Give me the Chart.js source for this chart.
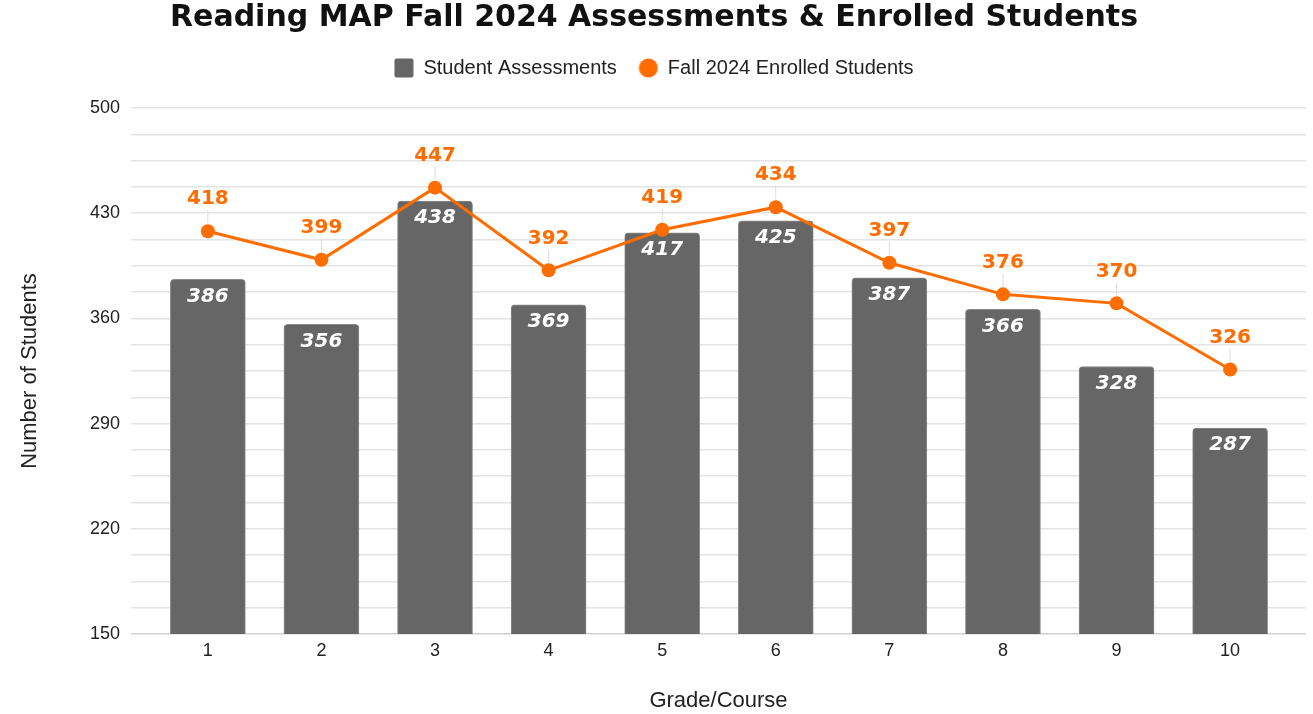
<!DOCTYPE html>
<html>
<head>
<meta charset="utf-8">
<title>Reading MAP Fall 2024</title>
<script src="https://cdn.jsdelivr.net/npm/chart.js@4/dist/chart.umd.min.js"></script>
<style>
  html, body { margin: 0; padding: 0; background: #fff; }
  #wrap { width: 1313px; height: 714px; }
</style>
</head>
<body>
<div id="wrap"><canvas id="mapChart"></canvas></div>
<script>
const grades = [1, 2, 3, 4, 5, 6, 7, 8, 9, 10];
const assessments = [386, 356, 438, 369, 417, 425, 387, 366, 328, 287];
const enrolled = [418, 399, 447, 392, 419, 434, 397, 376, 370, 326];
const yMajorTicks = [150, 220, 290, 360, 430, 500];

const colors = {
  bar: "#666666",
  barEdge: "#8a8a8a",
  orange: "#ff6d01",
  grid: "#e4e4e4",
  base: "#cfcfcf",
  text: "#1f1f1f",
};

// little canvases used as legend markers
function makeMarker(kind) {
  const c = document.createElement("canvas");
  c.width = 20;
  c.height = 20;
  const g = c.getContext("2d");
  if (kind === "square") {
    g.fillStyle = colors.bar;
    g.beginPath();
    g.roundRect(0.5, 0.5, 19, 19, 2);
    g.fill();
  } else {
    g.fillStyle = colors.orange;
    g.beginPath();
    g.arc(10, 10, 9.5, 0, Math.PI * 2);
    g.fill();
  }
  return c;
}
const markers = [makeMarker("square"), makeMarker("circle")];

// push the plot down a bit below the legend
const legendSpacer = {
  id: "legendSpacer",
  beforeInit(chart) {
    const fit = chart.legend.fit;
    chart.legend.fit = function () {
      fit.call(this);
      this.height += 20;
    };
  },
};

// value labels on bars and points
const valueLabels = {
  id: "valueLabels",
  afterDatasetsDraw(chart) {
    const ctx = chart.ctx;
    ctx.save();
    ctx.textAlign = "center";
    ctx.textBaseline = "middle";

    const barMeta = chart.getDatasetMeta(0);
    ctx.fillStyle = "#ffffff";
    ctx.font = "italic bold 20px 'DejaVu Sans'";
    barMeta.data.forEach((el, i) => {
      ctx.fillText(String(assessments[i]), el.x, el.y + 17);
    });

    const lineMeta = chart.getDatasetMeta(1);
    lineMeta.data.forEach((el, i) => {
      ctx.strokeStyle = "#dcdcdc";
      ctx.lineWidth = 1;
      ctx.beginPath();
      ctx.moveTo(el.x, el.y - 8);
      ctx.lineTo(el.x, el.y - 21);
      ctx.stroke();
      ctx.fillStyle = colors.orange;
      ctx.font = "bold 20px 'DejaVu Sans'";
      ctx.fillText(String(enrolled[i]), el.x, el.y - 32);
    });
    ctx.restore();
  },
};

const ctx = document.getElementById("mapChart").getContext("2d");
new Chart(ctx, {
  type: "bar",
  data: {
    datasets: [
      {
        type: "bar",
        label: "Student Assessments",
        data: grades.map((g, i) => ({ x: g, y: assessments[i] })),
        backgroundColor: colors.bar,
        borderColor: colors.barEdge,
        borderWidth: 1,
        borderSkipped: "bottom",
        borderRadius: { topLeft: 4, topRight: 4 },
        barThickness: 75,
        order: 2,
      },
      {
        type: "line",
        label: "Fall 2024 Enrolled Students",
        data: grades.map((g, i) => ({ x: g, y: enrolled[i] })),
        borderColor: colors.orange,
        backgroundColor: colors.orange,
        borderWidth: 3,
        pointRadius: 7,
        pointBorderWidth: 0,
        pointBackgroundColor: colors.orange,
        tension: 0,
        order: 1,
      },
    ],
  },
  options: {
    responsive: true,
    maintainAspectRatio: false,
    animation: false,
    events: [],
    layout: {
      padding: { left: 0, right: 5, top: 0, bottom: 0 },
    },
    plugins: {
      title: {
        display: true,
        text: "Reading MAP Fall 2024 Assessments & Enrolled Students",
        color: "#111",
        font: { family: "'DejaVu Sans', sans-serif", size: 30, weight: "bold" },
        padding: { top: 0, bottom: 0 },
      },
      legend: {
        display: true,
        position: "top",
        labels: {
          usePointStyle: true,
          boxWidth: 19,
          boxHeight: 19,
          padding: 22,
          color: "#222",
          font: { family: "'Liberation Sans', Arial, sans-serif", size: 20 },
          sort: (a, b) => a.datasetIndex - b.datasetIndex,
          generateLabels(chart) {
            const items = Chart.defaults.plugins.legend.labels.generateLabels(chart);
            items.forEach((it) => {
              it.pointStyle = markers[it.datasetIndex];
            });
            return items;
          },
        },
      },
      tooltip: { enabled: false },
    },
    scales: {
      x: {
        type: "linear",
        offset: false,
        min: 0.3234,
        max: 10.668,
        grid: { display: false, drawTicks: false },
        border: { display: false },
        ticks: {
          stepSize: 1,
          includeBounds: false,
          autoSkip: false,
          maxRotation: 0,
          padding: 6,
          color: "#222",
          font: { family: "'Liberation Sans', Arial, sans-serif", size: 18 },
          callback: (v) => (grades.includes(v) ? String(v) : ""),
        },
        title: {
          display: true,
          text: "Grade/Course",
          color: "#222",
          font: { family: "'Liberation Sans', Arial, sans-serif", size: 22 },
          padding: { top: 0, bottom: 0 },
        },
        afterFit: (scale) => {
          scale.height = 80;
        },
      },
      y: {
        min: 150,
        max: 500,
        grid: {
          drawTicks: false,
          lineWidth: 1.5,
          color: (c) => (c.tick && c.tick.value === 150 ? colors.base : colors.grid),
        },
        border: { display: false },
        ticks: {
          stepSize: 17.5,
          autoSkip: false,
          padding: 11,
          color: "#222",
          font: { family: "'Liberation Sans', Arial, sans-serif", size: 18 },
          callback: (v) => (yMajorTicks.includes(v) ? String(v) : ""),
        },
        title: {
          display: true,
          text: "Number of Students",
          color: "#222",
          font: { family: "'Liberation Sans Narrow', 'Liberation Sans', Arial, sans-serif", size: 22 },
          padding: { top: 17, bottom: 0 },
        },
        afterFit: (scale) => {
          scale.width = 131;
        },
      },
    },
  },
  plugins: [legendSpacer, valueLabels],
});
</script>
</body>
</html>
